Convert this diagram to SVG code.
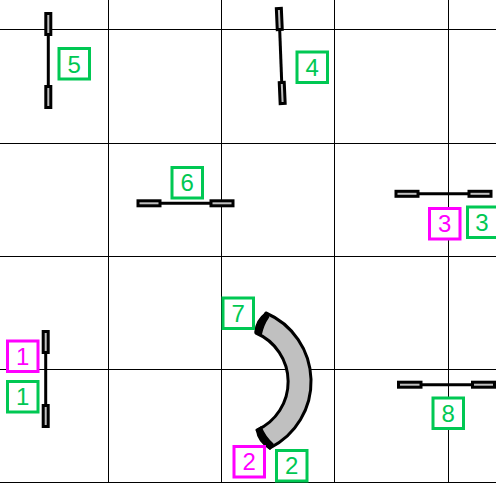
<svg xmlns="http://www.w3.org/2000/svg" width="496" height="483" viewBox="0 0 496 483">
<style>
.grid{stroke:#000;stroke-width:1;fill:none}
.bar{stroke:#000;stroke-width:3;fill:none}
.pad{fill:#c0c0c0;stroke:#000;stroke-width:3}
.g rect{fill:#fff;stroke:#00c853;stroke-width:3}
.m rect{fill:#fff;stroke:#ff00ff;stroke-width:3}
.g text{fill:#00c853}
.m text{fill:#ff00ff}
text{font-family:"Liberation Sans",Arial,sans-serif;font-size:24px;text-anchor:middle}
</style>
<rect width="496" height="483" fill="#fff"/>
<g id="grid" class="grid">
<path d="M108.500 0V483M221.500 0V483M334.500 0V483M448.500 0V483"/>
<path d="M0 29.500H496M0 143.500H496M0 256.500H496M0 369.500H496M0 482.500H496"/>
</g>
<g id="connectors">
<path class="bar" d="M48.300 35V85"/>
<rect class="pad" x="45.800" y="13.500" width="5" height="21"/>
<rect class="pad" x="45.800" y="86.500" width="5" height="21"/>
<path class="bar" d="M279.700 30L281.700 82"/>
<rect class="pad" x="276.800" y="8.500" width="5" height="21" transform="rotate(-2.500 279.300 19)"/>
<rect class="pad" x="279.700" y="82.500" width="5" height="21" transform="rotate(-2.500 282.200 93)"/>
<path class="bar" d="M160 203.300H211"/>
<rect class="pad" x="138" y="200.800" width="22" height="5"/>
<rect class="pad" x="211" y="200.800" width="22" height="5"/>
<path class="bar" d="M418 193.800H468"/>
<rect class="pad" x="396" y="191.300" width="22" height="5"/>
<rect class="pad" x="469" y="191.300" width="22" height="5"/>
<path class="bar" d="M421 384.700H472"/>
<rect class="pad" x="398.500" y="382.200" width="22.500" height="5"/>
<rect class="pad" x="472.500" y="382.200" width="22" height="5"/>
<path class="bar" d="M45.700 354V405"/>
<rect class="pad" x="43.200" y="331.500" width="5" height="21"/>
<rect class="pad" x="43.200" y="405.500" width="5" height="21"/>
<path d="M266 313A74.500 74.500 0 0 1 270 448L257 430A53 53 0 0 0 256 333Z" fill="#c0c0c0" stroke="#000" stroke-width="3" stroke-linejoin="round"/>
<path d="M265.500 313Q256 320 255 332L261 335Q263 325 268.500 317Z" fill="#000" stroke="#000" stroke-width="1.500" stroke-linejoin="round"/>
<path d="M256.500 430Q258 442 270 449L273 444Q265 437 261 427Z" fill="#000" stroke="#000" stroke-width="1.500" stroke-linejoin="round"/>
</g>
<g id="label-5" class="g"><rect x="59" y="48.500" width="30.500" height="30.500"/><text x="74.300" y="72.500">5</text></g>
<g id="label-4" class="g"><rect x="297" y="52" width="30.500" height="30.500"/><text x="312.300" y="75.500">4</text></g>
<g id="label-6" class="g"><rect x="172" y="167.500" width="30.500" height="30.500"/><text x="187.300" y="191">6</text></g>
<g id="label-3m" class="m"><rect x="429.500" y="208.500" width="30.500" height="30.500"/><text x="444.800" y="232">3</text></g>
<g id="label-3g" class="g"><rect x="467.500" y="207" width="30.500" height="30.500"/><text x="482" y="230.500">3</text></g>
<g id="label-7" class="g"><rect x="223" y="298" width="30.500" height="30.500"/><text x="238.300" y="321.500">7</text></g>
<g id="label-2m" class="m"><rect x="234" y="446.500" width="30.500" height="30.500"/><text x="249.300" y="470">2</text></g>
<g id="label-2g" class="g"><rect x="276.500" y="450.500" width="30.500" height="30.500"/><text x="291.800" y="474">2</text></g>
<g id="label-1m" class="m"><rect x="7.500" y="341" width="30.500" height="30.500"/><text x="22.800" y="364.500">1</text></g>
<g id="label-1g" class="g"><rect x="7.500" y="381.500" width="30.500" height="30.500"/><text x="22.800" y="405">1</text></g>
<g id="label-8" class="g"><rect x="433" y="398" width="30.500" height="30.500"/><text x="448.300" y="421.500">8</text></g>
</svg>
